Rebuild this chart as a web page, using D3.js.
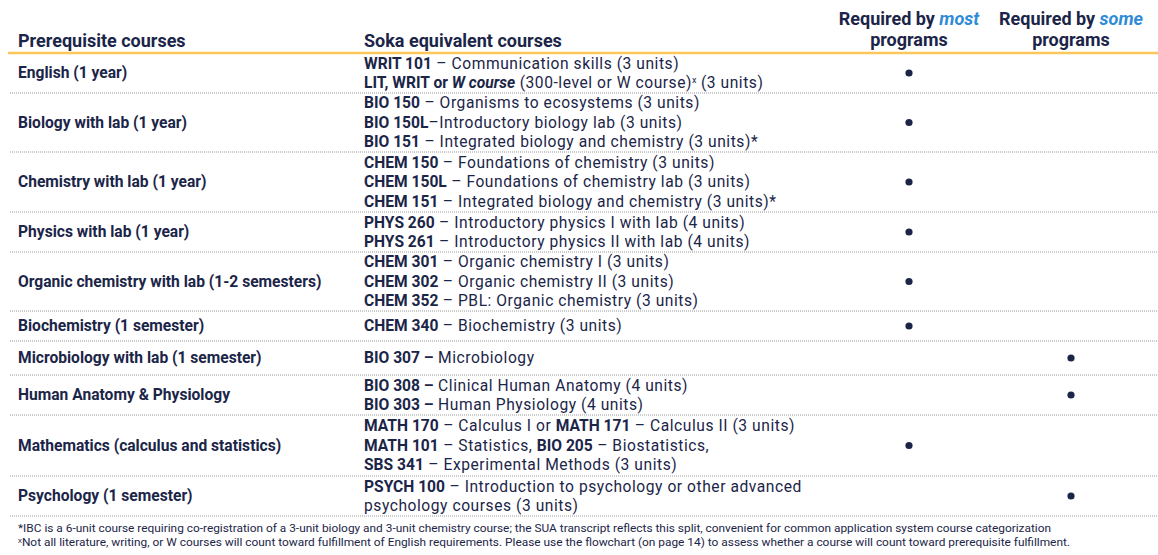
<!DOCTYPE html>
<html><head><meta charset="utf-8">
<script src="https://cdn.jsdelivr.net/npm/d3@7"></script>
<style>body{margin:0;background:#fff}svg{font-family:Roboto,sans-serif}</style>
</head><body>
<svg id="c" width="1158" height="555"></svg>
<script>
const headers = ["Prerequisite courses","Soka equivalent courses"];
const prereqs = ["English (1 year)","Biology with lab (1 year)","Chemistry with lab (1 year)","Physics with lab (1 year)","Organic chemistry with lab (1-2 semesters)","Biochemistry (1 semester)","Microbiology with lab (1 semester)","Human Anatomy & Physiology","Mathematics (calculus and statistics)","Psychology (1 semester)"];
const courses = [
 [[["WRIT 101","b"],[" – Communication skills (3 units)",""]],[["LIT, WRIT or ","b"],["W course","bi"],[" (300-level or W course)",""],["x","s"],[" (3 units)",""]]],
 [[["BIO 150","b"],[" – Organisms to ecosystems (3 units)",""]],[["BIO 150L","b"],["–Introductory biology lab (3 units)",""]],[["BIO 151","b"],[" – Integrated biology and chemistry (3 units)*",""]]],
 [[["CHEM 150","b"],[" – Foundations of chemistry (3 units)",""]],[["CHEM 150L","b"],[" – Foundations of chemistry lab (3 units)",""]],[["CHEM 151","b"],[" – Integrated biology and chemistry (3 units)*",""]]],
 [[["PHYS 260","b"],["  – Introductory physics I with lab (4 units)",""]],[["PHYS 261","b"],["  – Introductory physics II with lab (4 units)",""]]],
 [[["CHEM 301","b"],[" – Organic chemistry I (3 units)",""]],[["CHEM 302","b"],[" – Organic chemistry II (3 units)",""]],[["CHEM 352","b"],[" – PBL: Organic chemistry (3 units)",""]]],
 [[["CHEM 340","b"],[" – Biochemistry (3 units)",""]]],
 [[["BIO 307 –","b"],[" Microbiology",""]]],
 [[["BIO 308 –","b"],[" Clinical Human Anatomy (4 units)",""]],[["BIO 303 –","b"],[" Human Physiology (4 units)",""]]],
 [[["MATH 170","b"],[" – Calculus I or ",""],["MATH 171","b"],[" – Calculus II (3 units)",""]],[["MATH 101","b"],[" – Statistics, ",""],["BIO 205","b"],[" – Biostatistics,",""]],[["SBS 341","b"],[" – Experimental Methods (3 units)",""]]],
 [[["PSYCH 100","b"],[" – Introduction to psychology or other advanced",""]],[["psychology courses (3 units)",""]]]
];
const required = ["most","most","most","most","most","most","some","some","most","some"];
const rowBounds = [53,93,152,212,252,311,341,375,415,476,516];
const footnotes = ["*IBC is a 6-unit course requiring co-registration of a 3-unit biology and 3-unit chemistry course; the SUA transcript reflects this split, convenient for common application system course categorization",
 "ˣNot all literature, writing, or W courses will count toward fulfillment of English requirements. Please use the flowchart (on page 14) to assess whether a course will count toward prerequisite fulfillment."];

const navy="#1b2548", blue="#2e8bd8", orange="#fbc75a";
const svg=d3.select("#c");
const x=d3.scaleOrdinal().domain(["pre","soka","most","some"]).range([18,364,909,1071]);
const lh=19.5, fs=15.6;

svg.append("text").attr("x",x("pre")).attr("y",47).attr("font-size",18).attr("font-weight",700).attr("fill",navy).text(headers[0]);
svg.append("text").attr("x",x("soka")).attr("y",47).attr("font-size",18).attr("font-weight",700).attr("fill",navy).text(headers[1]);
[["most","most"],["some","some"]].forEach(([k,w])=>{
  const t=svg.append("text").attr("x",x(k)).attr("y",25).attr("text-anchor","middle").attr("font-size",18).attr("font-weight",700).attr("fill",navy);
  t.append("tspan").text("Required by ");
  t.append("tspan").attr("fill",blue).attr("font-style","italic").text(w);
  svg.append("text").attr("x",x(k)).attr("y",46).attr("text-anchor","middle").attr("font-size",18).attr("font-weight",700).attr("fill",navy).text("programs");
});
svg.append("line").attr("x1",8).attr("x2",1158).attr("y1",53).attr("y2",53).attr("stroke",orange).attr("stroke-width",2.5);

prereqs.forEach((p,i)=>{
  const top=rowBounds[i], bot=rowBounds[i+1], cy=(top+bot)/2;
  svg.append("text").attr("x",x("pre")).attr("y",cy).attr("dy","0.35em").attr("font-size",fs).attr("font-weight",700).attr("fill",navy).text(p);
  const lines=courses[i], n=lines.length;
  lines.forEach((segs,j)=>{
    const y=cy+(j-(n-1)/2)*lh;
    const t=svg.append("text").attr("x",x("soka")).attr("y",y).attr("dy","0.35em").attr("font-size",fs).attr("fill",navy);
    segs.forEach(([s,st],k)=>{
      const ts=t.append("tspan").text(s);
      if(st.includes("b"))ts.attr("font-weight",700);
      if(st.includes("i"))ts.attr("font-style","italic");
      if(st==="")ts.attr("letter-spacing",0.55);
      if(st==="s")ts.attr("font-size",9).attr("dy","-5");
      if(k>0 && segs[k-1][1]==="s")ts.attr("dy","5");
    });
  });
  svg.append("circle").attr("cx",x(required[i])).attr("cy",cy).attr("r",3.6).attr("fill",navy);
  svg.append("line").attr("x1",10).attr("x2",1158).attr("y1",bot).attr("y2",bot).attr("stroke","#9a9a9a").attr("stroke-width",1.2).attr("stroke-dasharray","1,1");
});

footnotes.forEach((f,i)=>{
  svg.append("text").attr("x",18).attr("y",528+i*14).attr("dy","0.35em").attr("font-size",11).attr("fill",navy)
    .attr("textLength",i===0?1033:1052).attr("lengthAdjust","spacingAndGlyphs").text(f);
});
</script>
</body></html>
